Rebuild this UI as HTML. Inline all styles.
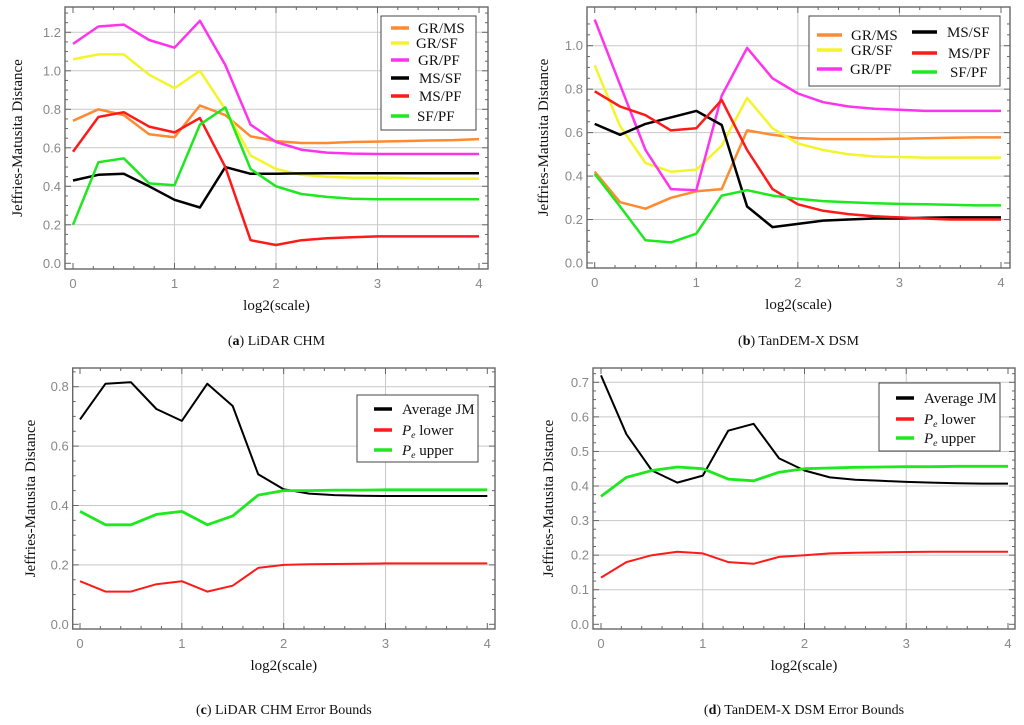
<!DOCTYPE html>
<html><head><meta charset="utf-8"><style>
body{margin:0;background:#fff;width:1024px;height:725px;overflow:hidden}
svg{display:block}
</style></head><body>
<svg id="fig" width="1024" height="725" xmlns="http://www.w3.org/2000/svg"></svg>
<script>
const xVals=[0,0.25,0.5,0.75,1,1.25,1.5,1.75,2,2.25,2.5,2.75,3,3.25,3.5,3.75,4];
const xTicks=[0,1,2,3,4];
// Panel a
const aGRMS=[0.74,0.80,0.77,0.67,0.655,0.82,0.77,0.66,0.635,0.625,0.625,0.63,0.632,0.635,0.638,0.64,0.645];
const aGRSF=[1.06,1.085,1.085,0.98,0.91,1.0,0.80,0.56,0.49,0.46,0.45,0.445,0.445,0.443,0.44,0.44,0.44];
const aGRPF=[1.14,1.23,1.24,1.16,1.12,1.26,1.03,0.72,0.63,0.59,0.575,0.57,0.568,0.568,0.568,0.568,0.568];
const aMSSF=[0.43,0.46,0.465,0.40,0.33,0.29,0.50,0.465,0.465,0.467,0.468,0.468,0.468,0.468,0.468,0.468,0.468];
const aMSPF=[0.58,0.76,0.785,0.71,0.68,0.755,0.50,0.12,0.095,0.12,0.13,0.135,0.14,0.14,0.14,0.14,0.14];
const aSFPF=[0.20,0.525,0.545,0.415,0.405,0.72,0.81,0.49,0.40,0.36,0.345,0.335,0.333,0.333,0.333,0.333,0.333];
const aYTicks=[0,0.2,0.4,0.6,0.8,1.0,1.2];
// Panel b
const bGRMS=[0.42,0.28,0.25,0.30,0.33,0.34,0.61,0.59,0.575,0.57,0.57,0.57,0.572,0.574,0.576,0.578,0.578];
const bGRSF=[0.91,0.63,0.46,0.42,0.43,0.54,0.76,0.62,0.55,0.52,0.50,0.49,0.488,0.485,0.485,0.485,0.485];
const bGRPF=[1.12,0.82,0.52,0.34,0.335,0.77,0.99,0.85,0.78,0.74,0.72,0.71,0.705,0.70,0.70,0.70,0.70];
const bMSSF=[0.64,0.59,0.64,0.67,0.70,0.635,0.26,0.165,0.18,0.195,0.20,0.205,0.205,0.208,0.21,0.21,0.21];
const bMSPF=[0.79,0.72,0.68,0.61,0.62,0.75,0.52,0.34,0.27,0.24,0.225,0.215,0.21,0.205,0.20,0.20,0.20];
const bSFPF=[0.41,0.26,0.105,0.095,0.135,0.31,0.335,0.31,0.295,0.285,0.28,0.275,0.272,0.27,0.268,0.265,0.265];
const bYTicks=[0,0.2,0.4,0.6,0.8,1.0];
// Panel c
const cAvg=[0.69,0.81,0.815,0.725,0.685,0.81,0.735,0.505,0.455,0.44,0.435,0.433,0.432,0.432,0.432,0.432,0.432];
const cLow=[0.145,0.11,0.11,0.135,0.145,0.11,0.13,0.19,0.20,0.202,0.203,0.204,0.205,0.205,0.205,0.205,0.205];
const cUp=[0.38,0.335,0.335,0.37,0.38,0.335,0.365,0.435,0.45,0.45,0.452,0.452,0.453,0.453,0.453,0.453,0.453];
const cYTicks=[0,0.2,0.4,0.6,0.8];
// Panel d
const dAvg=[0.72,0.55,0.445,0.41,0.43,0.56,0.58,0.48,0.445,0.425,0.418,0.415,0.412,0.41,0.408,0.407,0.407];
const dLow=[0.135,0.18,0.20,0.21,0.205,0.18,0.175,0.195,0.20,0.205,0.207,0.208,0.209,0.21,0.21,0.21,0.21];
const dUp=[0.37,0.425,0.445,0.455,0.45,0.42,0.415,0.44,0.45,0.452,0.454,0.455,0.456,0.456,0.457,0.457,0.457];
const dYTicks=[0,0.1,0.2,0.3,0.4,0.5,0.6,0.7];

const NS="http://www.w3.org/2000/svg";
const svg=document.getElementById('fig');
function mk(tag,attrs,parent){const e=document.createElementNS(NS,tag);for(const k in attrs)e.setAttribute(k,attrs[k]);(parent||svg).appendChild(e);return e;}

function panel(p){
  const g=mk('g',{});
  
  
  const sx=v=>p.x0px+(v-0)*(p.x4px-p.x0px)/4;
  const sy=v=>p.y0px-(v-0)*(p.y0px-p.yTpx)/p.yTv;
  xTicks.forEach(t=>{if(t>0&&t<4){const l=mk('line',{x1:sx(t),x2:sx(t),y1:p.fy1,y2:p.fy2,stroke:'#c8c8c8','stroke-width':1},g);}});
  p.yTicks.forEach(t=>{if(t>0){const l=mk('line',{x1:p.fx1,x2:p.fx2,y1:sy(t),y2:sy(t),stroke:'#c8c8c8','stroke-width':1},g);}});
  for(let v=0;v<=4.001;v+=0.2){const x=sx(v);const mj=Math.abs(v-Math.round(v))<0.01;mk('line',{x1:x,x2:x,y1:p.fy2,y2:p.fy2-(mj?6:3),stroke:'#666'},g);mk('line',{x1:x,x2:x,y1:p.fy1,y2:p.fy1+(mj?6:3),stroke:'#666'},g);}
  const step=p.yTicks[1]/4;
  for(let v=0;v<=p.yTv*1.12;v+=step){const y=sy(v);if(y<p.fy1)break;const major=Math.abs(v/p.yTicks[1]-Math.round(v/p.yTicks[1]))<0.01;mk('line',{x1:p.fx1,x2:p.fx1+(major?6:3),y1:y,y2:y,stroke:'#666'},g);mk('line',{x1:p.fx2,x2:p.fx2-(major?6:3),y1:y,y2:y,stroke:'#666'},g);}
  const fr=mk('rect',{x:p.fx1,y:p.fy1,width:p.fx2-p.fx1,height:p.fy2-p.fy1,fill:'none',stroke:'#666','stroke-width':1.4},g);
  
  xTicks.forEach(t=>{const tx=mk('text',{x:sx(t),y:p.fy2+19,'text-anchor':'middle','font-family':'Liberation Sans, sans-serif','font-size':13,fill:'#888'},g);tx.textContent=t;});
  p.yTicks.forEach(t=>{const tx=mk('text',{x:p.fx1-4,y:sy(t)+4.5,'text-anchor':'end','font-family':'Liberation Sans, sans-serif','font-size':13,fill:'#888'},g);tx.textContent=t.toFixed(1);});
  p.series.forEach(s=>{const d=s.data.map((v,i)=>(i?'L':'M')+sx(xVals[i]).toFixed(1)+','+sy(v).toFixed(1)).join('');const pa=mk('path',{d:d,fill:'none',stroke:s.color,'stroke-width':s.w||2.5,'stroke-linejoin':'round'},g);});
  const xt=mk('text',{x:(p.fx1+p.fx2)/2,y:p.fy2+41,'text-anchor':'middle','font-family':'Liberation Serif, serif','font-size':15,fill:'#111'},g);xt.textContent='log2(scale)';
  const yt=mk('text',{x:0,y:0,transform:`translate(${p.ytx},${(p.fy1+p.fy2)/2}) rotate(-90)`,'text-anchor':'middle','font-family':'Liberation Serif, serif','font-size':15,fill:'#111'},g);yt.textContent='Jeffries-Matusita Distance';
  const cap=mk('text',{x:(p.fx1+p.fx2)/2,y:p.capy,'text-anchor':'middle','font-family':'Liberation Serif, serif','font-size':14,fill:'#111'},g);
  const t1=mk('tspan',{},cap);t1.textContent='(';const t2=mk('tspan',{'font-weight':'bold'},cap);t2.textContent=p.id;const t3=mk('tspan',{},cap);t3.textContent=') '+p.caption;
  
  const L=p.legend;
  const lg=mk('g',{},g);
  mk('rect',{x:L.x,y:L.y,width:L.w,height:L.h,fill:'#fff',stroke:'#444','stroke-width':1},lg);
  L.items.forEach(it=>{const s=p.series.find(q=>q.key===it.key);const e=mk('g',{},lg);
    mk('line',{x1:it.lx,x2:it.lx+it.lw,y1:it.y,y2:it.y,stroke:s.color,'stroke-width':3.5},e);
    const tx=mk('text',{x:it.tx,y:it.y+5,'font-family':'Liberation Serif, serif','font-size':L.fs,fill:'#111'},e);
    if(it.pe){const a=mk('tspan',{'font-style':'italic'},tx);a.textContent='P';const bb=mk('tspan',{'font-style':'italic','font-size':L.fs*0.65,dy:3},tx);bb.textContent='e';const c=mk('tspan',{dy:-3},tx);c.textContent=' '+it.label;}
    else tx.textContent=it.label;});
}
const O='#ff8a30',Y='#f4f42a',M='#ff33ee',K='#000',R='#ff1a1a',G='#1ee81e';
panel({id:'a',caption:'LiDAR CHM',x0px:73,x4px:479,y0px:263.3,yTpx:32.3,yTv:1.2,yTicks:aYTicks,fx1:65,fx2:488,fy1:7,fy2:269,ytx:22,capy:345,
 series:[{key:'gr-ms',data:aGRMS,color:O},{key:'gr-sf',data:aGRSF,color:Y},{key:'gr-pf',data:aGRPF,color:M},{key:'ms-sf',data:aMSSF,color:K},{key:'ms-pf',data:aMSPF,color:R},{key:'sf-pf',data:aSFPF,color:G}],
 legend:{x:381,y:16,w:95,h:114,fs:15,items:[{key:'gr-ms',label:'GR/MS',y:28,lx:391,lw:18,tx:418},{key:'gr-sf',label:'GR/SF',y:43,lx:391,lw:18,tx:416},{key:'gr-pf',label:'GR/PF',y:60,lx:391,lw:18,tx:418},{key:'ms-sf',label:'MS/SF',y:78,lx:391,lw:18,tx:419},{key:'ms-pf',label:'MS/PF',y:96,lx:391,lw:18,tx:419},{key:'sf-pf',label:'SF/PF',y:116,lx:391,lw:18,tx:417}]}});
panel({id:'b',caption:'TanDEM-X DSM',x0px:594.7,x4px:1001,y0px:263,yTpx:45.7,yTv:1.0,yTicks:bYTicks,fx1:587,fx2:1010,fy1:7,fy2:268,ytx:548,capy:345,
 series:[{key:'gr-ms',data:bGRMS,color:O},{key:'gr-sf',data:bGRSF,color:Y},{key:'gr-pf',data:bGRPF,color:M},{key:'ms-sf',data:bMSSF,color:K},{key:'ms-pf',data:bMSPF,color:R},{key:'sf-pf',data:bSFPF,color:G}],
 legend:{x:809,y:16,w:191,h:70,fs:15,items:[{key:'gr-ms',label:'GR/MS',y:35,lx:817,lw:25,tx:851},{key:'gr-sf',label:'GR/SF',y:50,lx:817,lw:25,tx:851},{key:'gr-pf',label:'GR/PF',y:69,lx:817,lw:25,tx:850},{key:'ms-sf',label:'MS/SF',y:32,lx:912,lw:25,tx:947},{key:'ms-pf',label:'MS/PF',y:53,lx:912,lw:25,tx:948},{key:'sf-pf',label:'SF/PF',y:72,lx:912,lw:25,tx:950}]}});
panel({id:'c',caption:'LiDAR CHM Error Bounds',x0px:80,x4px:487.3,y0px:624.3,yTpx:386.7,yTv:0.8,yTicks:cYTicks,fx1:72.7,fx2:495,fy1:368,fy2:629,ytx:35,capy:714,
 series:[{key:'average-jm',data:cAvg,color:K,w:2},{key:'pe-lower',data:cLow,color:R,w:2},{key:'pe-upper',data:cUp,color:G,w:2.8}],
 legend:{x:357,y:395,w:121,h:67,fs:15,items:[{key:'average-jm',label:'Average JM',y:409,lx:374,lw:18,tx:402},{key:'pe-lower',label:'lower',y:430,lx:374,lw:18,tx:402,pe:1},{key:'pe-upper',label:'upper',y:450,lx:374,lw:18,tx:402,pe:1}]}});
panel({id:'d',caption:'TanDEM-X DSM Error Bounds',x0px:601,x4px:1008,y0px:624.3,yTpx:382.3,yTv:0.7,yTicks:dYTicks,fx1:593,fx2:1015,fy1:368,fy2:629,ytx:553,capy:714,
 series:[{key:'average-jm',data:dAvg,color:K,w:2},{key:'pe-lower',data:dLow,color:R,w:2},{key:'pe-upper',data:dUp,color:G,w:2.8}],
 legend:{x:879,y:383,w:121,h:68,fs:15,items:[{key:'average-jm',label:'Average JM',y:398,lx:896,lw:18,tx:924},{key:'pe-lower',label:'lower',y:419,lx:896,lw:18,tx:924,pe:1},{key:'pe-upper',label:'upper',y:438,lx:896,lw:18,tx:924,pe:1}]}});
</script>
</body></html>
